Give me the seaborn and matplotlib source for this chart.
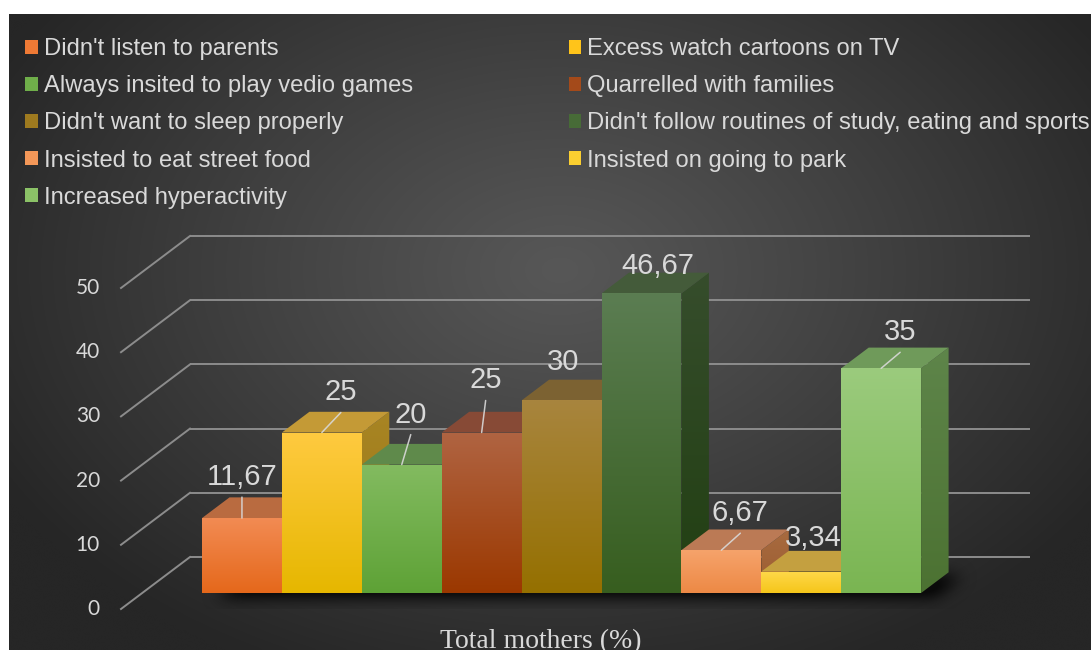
import numpy as np
import pandas as pd
import matplotlib
matplotlib.use("Agg")
import matplotlib.pyplot as plt
import matplotlib.patches as mpatches
from matplotlib.colors import LinearSegmentedColormap, to_rgb
import seaborn as sns

# ---- data -------------------------------------------------------------
CAUSES = [
    "Didn't listen to parents",
    "Excess watch cartoons on TV",
    "Always insited to play vedio games",
    "Quarrelled with families",
    "Didn't want to sleep properly",
    "Didn't follow routines of study, eating and sports",
    "Insisted to eat street food",
    "Insisted on going to park",
    "Increased hyperactivity",
]
PERCENT = [11.67, 25, 20, 25, 30, 46.67, 6.67, 3.34, 35]
TICKS = [0, 10, 20, 30, 40, 50]
AXIS_TITLE = "Total mothers (%)"

# ---- colours ----------------------------------------------------------
FRONT_TOP = ["#f28b53", "#ffca40", "#83bb60", "#b06442", "#a8853e",
             "#5b7d52", "#f6a36b", "#ffd84a", "#9bcb7d"]
FRONT_BOT = ["#e5681b", "#e6b700", "#5ea236", "#9b3800", "#957000",
             "#375e1f", "#ed8945", "#f5c61a", "#7ab552"]
TOP_FACE = ["#b96b40", "#c49a36", "#5f8a4b", "#874a36", "#7c6232",
            "#445b3a", "#bb7a55", "#c4a040", "#6f9a5a"]
SIDE_TOP = ["#a85a2c", "#a88524", "#4d7a35", "#7a3a1c", "#6e5318",
            "#364d2c", "#a86b40", "#b08a22", "#5e854a"]
SIDE_BOT = ["#97490f", "#9a7612", "#3f6a24", "#6a2a05", "#5f4500",
            "#213f12", "#9b5c30", "#a07b0a", "#4c7232"]
LEGEND_COL = ["#ef7a35", "#ffc41a", "#6fae4a", "#a44a1a", "#9e7a1f",
              "#476b37", "#f39758", "#fbcf30", "#8bc267"]
TEXT_COL = "#d9d9d9"
GRID_COL = "#8c8c8c"

# per-label placement (pixels right / down from the front-top edge centre)
LABEL_OFFSETS = [(0, -41), (19, -40), (9, -50), (4, -52), (2, -38),
                 (16, -27), (19, -37), (12, -34), (19, -36)]

# ---- layout -----------------------------------------------------------
W, H = 1091, 650
PX0, XS = 202.0, 79.9        # pixel x of first bar edge, pixels per category
PY0, YS = 593.0, 6.42        # pixel y (from top) of floor, pixels per percent
DX, DY = 27.5 / XS, 20.7 / YS          # bar depth in data units
BACK_DY = 36.0 / YS                    # bar plane -> back wall
FRONT_DY = -16.0 / YS                  # bar plane -> front edge


def px_x(p):
    return -0.5 + (p - PX0) / XS


fig = plt.figure(figsize=(W / 100, H / 100), dpi=100, facecolor="white")

# background panel with a soft radial gradient
bg = fig.add_axes([9 / W, 0, 1 - 9 / W, (H - 14) / H], zorder=-5)
gx = np.linspace(9, W, 400)
gy = np.linspace(14, H, 240)
GX, GY = np.meshgrid(gx, gy)
r = np.sqrt(((GX - 560) / 640) ** 2 + ((GY - 270) / 440) ** 2)
t = np.clip(r, 0, 1) ** 1.1
c0 = np.array(to_rgb("#575757"))
c1 = np.array(to_rgb("#262626"))
img = c0[None, None, :] * (1 - t[..., None]) + c1[None, None, :] * t[..., None]
bg.imshow(img, aspect="auto", extent=[0, 1, 0, 1], interpolation="bicubic")
bg.axis("off")

ax = fig.add_axes([0, 0, 1, 1], zorder=1)
ax.set_facecolor("none")

df = pd.DataFrame({"cause": CAUSES, "pct": PERCENT})
sns.barplot(data=df, x="cause", y="pct", hue="cause", order=CAUSES,
            hue_order=CAUSES, palette=FRONT_BOT, width=1.0, saturation=1,
            legend=False, ax=ax, zorder=6)
bars = sorted(ax.patches, key=lambda p: p.get_x())


def gradient_poly(verts, c_top, c_bot, z):
    poly = mpatches.Polygon(verts, closed=True, facecolor="none",
                            edgecolor="none", zorder=z)
    ax.add_patch(poly)
    xs = [v[0] for v in verts]
    ys = [v[1] for v in verts]
    cmap = LinearSegmentedColormap.from_list("g", [c_top, c_bot])
    im = ax.imshow(np.linspace(0, 1, 128)[:, None], cmap=cmap,
                   extent=[min(xs), max(xs), min(ys), max(ys)],
                   aspect="auto", origin="upper", zorder=z,
                   interpolation="bilinear")
    im.set_clip_path(poly)
    return im


# back-wall gridlines, the diagonal wall edges and the value axis labels
x_back_l = px_x(190)
x_back_r = px_x(1030)
x_front_l = px_x(121)
for v in TICKS:
    yb = v + BACK_DY
    ax.plot([x_back_l, x_back_r], [yb, yb], color=GRID_COL, lw=1.4, zorder=1,
            solid_capstyle="butt")
    ax.plot([x_front_l, x_back_l], [v + FRONT_DY, yb], color=GRID_COL,
            lw=1.4, zorder=1)
    ax.text(px_x(100), v + FRONT_DY, str(v), ha="right", va="center",
            color=TEXT_COL, fontsize=15, family=["Lato", "DejaVu Sans"],
            zorder=10)

# floor shadow under the row of bars
x_first = bars[0].get_x()
x_last = bars[-1].get_x() + bars[-1].get_width()
sx0, sx1 = x_first - 40 / XS, x_last + DX + 70 / XS
sy0, sy1 = -16 / YS, DY + 16 / YS
nx = int(round((sx1 - sx0) * XS))
ny = int(round((sy1 - sy0) * YS))
SX, SY = np.meshgrid(np.linspace(sx0, sx1, nx), np.linspace(sy1, sy0, ny))
shift_x, shift_y = 14 / XS, -4 / YS
s = (SY - shift_y) / DY
inside = ((s >= 0) & (s <= 1) &
          (SX - shift_x >= x_first + s * DX) &
          (SX - shift_x <= x_last + s * DX)).astype(float)
k = np.exp(-0.5 * (np.arange(-24, 25) / 8.0) ** 2)
k /= k.sum()
blur = np.apply_along_axis(lambda row: np.convolve(row, k, mode="same"), 1, inside)
blur = np.apply_along_axis(lambda col: np.convolve(col, k, mode="same"), 0, blur)
shadow = np.zeros((ny, nx, 4))
shadow[..., 3] = np.clip(blur * 1.1, 0, 0.75)
ax.imshow(shadow, extent=[sx0, sx1, sy0, sy1], aspect="auto", zorder=2,
          interpolation="bilinear")

# 3-D bars: side faces, then top faces, then gradient fronts
for i, p in enumerate(bars):
    x0, w, h = p.get_x(), p.get_width(), p.get_height()
    x1 = x0 + w
    gradient_poly([(x1, 0), (x1, h), (x1 + DX, h + DY), (x1 + DX, DY)],
                  SIDE_TOP[i], SIDE_BOT[i], 3)
for i, p in enumerate(bars):
    x0, w, h = p.get_x(), p.get_width(), p.get_height()
    x1 = x0 + w
    ax.add_patch(mpatches.Polygon([(x0, h), (x1, h), (x1 + DX, h + DY),
                                   (x0 + DX, h + DY)], closed=True,
                                  facecolor=TOP_FACE[i], edgecolor="none",
                                  zorder=4))
for i, p in enumerate(bars):
    x0, w, h = p.get_x(), p.get_width(), p.get_height()
    p.set_zorder(5)
    gradient_poly([(x0, 0), (x0 + w, 0), (x0 + w, h), (x0, h)],
                  FRONT_TOP[i], FRONT_BOT[i], 6)

# value labels with leader lines
for i, p in enumerate(bars):
    v = PERCENT[i]
    cx = p.get_x() + p.get_width() / 2
    h = p.get_height()
    ox, oy = LABEL_OFFSETS[i]
    label = f"{v:g}".replace(".", ",")
    ax.annotate(label, xy=(cx, h), xytext=(ox, -oy), textcoords="offset pixels",
                ha="center", va="center", color=TEXT_COL, fontsize=21,
                family="Liberation Sans", zorder=12)
    lead = np.hypot(ox, -oy - 20)
    if lead > 20:
        ax.annotate("", xy=(cx, h), xytext=(ox, -oy - 20),
                    textcoords="offset pixels",
                    arrowprops=dict(arrowstyle="-", color=TEXT_COL, lw=1.1,
                                    shrinkA=0, shrinkB=0, alpha=0.9),
                    zorder=11)

# axis title
ax.text(px_x(541), -(H - 2 - PY0) / YS, AXIS_TITLE, ha="center",
        va="baseline", color=TEXT_COL, fontsize=20, family="Liberation Serif",
        zorder=10)

ax.set_xlim(-0.5 - PX0 / XS, -0.5 + (W - PX0) / XS)
ax.set_ylim(-(H - PY0) / YS, PY0 / YS)
ax.axis("off")

# legend, two columns, filled row by row
handles = [mpatches.Patch(facecolor=c, edgecolor="none") for c in LEGEND_COL]
order = [0, 2, 4, 6, 8, 1, 3, 5, 7]
leg = fig.legend([handles[j] for j in order], [CAUSES[j] for j in order],
                 ncol=2, loc="upper left",
                 bbox_to_anchor=(25 / W, (H - 38) / H),
                 frameon=False, borderpad=0, borderaxespad=0,
                 handlelength=0.53, handleheight=0.53, handletextpad=0.25,
                 labelspacing=0.64, columnspacing=6.57,
                 prop={"family": "Liberation Sans", "size": 17.1})
for txt in leg.get_texts():
    txt.set_color(TEXT_COL)

fig.savefig("out.png", dpi=100, facecolor="white")
